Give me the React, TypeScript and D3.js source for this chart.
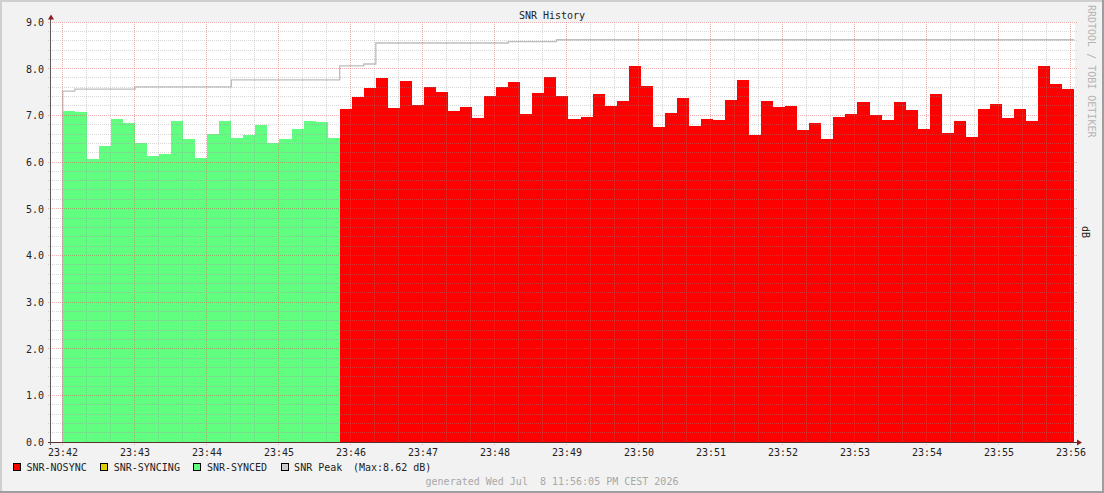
import * as d3 from 'd3';

// SNR samples, one every ~10 s starting 23:42:00
const syncedValues = [
  7.09, 7.07, 6.06, 6.34, 6.92, 6.84, 6.41, 6.13, 6.17, 6.88, 6.49, 6.09,
  6.6, 6.88, 6.51, 6.58, 6.79, 6.41, 6.49, 6.71, 6.88, 6.86, 6.51,
];

const nosyncValues = [
  7.13, 7.39, 7.59, 7.8, 7.16, 7.74, 7.22, 7.61, 7.5, 7.09,
  7.18, 6.94, 7.41, 7.61, 7.71, 7.03, 7.48, 7.82, 7.41, 6.92,
  6.96, 7.46, 7.2, 7.31, 8.06, 7.63, 6.76, 7.05, 7.37, 6.77,
  6.92, 6.9, 7.33, 7.76, 6.58, 7.31, 7.18, 7.2, 6.69, 6.84,
  6.49, 6.96, 7.03, 7.29, 7.01, 6.9, 7.29, 7.11, 6.71, 7.46,
  6.62, 6.88, 6.54, 7.13, 7.24, 6.94, 7.13, 6.88, 8.06, 7.67,
  7.56,
];

// peak level changes: sample index where it starts, and its value
const peakStartIndex = [0, 1, 6, 14, 23, 25, 26, 37, 41];
const peakValues = [7.52, 7.56, 7.61, 7.76, 8.06, 8.1, 8.55, 8.58, 8.62];

const legendLabels = ['SNR-NOSYNC', 'SNR-SYNCING', 'SNR-SYNCED', 'SNR Peak'];
const legendColors = ['#ff0000', '#e0d000', '#60ff80', '#cccccc'];

const title = 'SNR History';
const unitLabel = 'dB';
const watermark = 'RRDTOOL / TOBI OETIKER';
const generatedText = 'generated Wed Jul  8 11:56:05 PM CEST 2026';

const T_START = new Date(2026, 6, 8, 23, 41, 50, 600);
const T_END = new Date(2026, 6, 8, 23, 56, 4, 0);
const FIRST_SAMPLE = new Date(2026, 6, 8, 23, 42, 0, 400);
const STEP_MS = 10035;

const W = 1104;
const H = 493;
const left = 51;
const right = 1075;
const top = 22;
const bottom = 442;
const font = "'DejaVu Sans Mono', monospace";
const charW = 6.02;

const sampleTime = (i: number) => new Date(FIRST_SAMPLE.getTime() + i * STEP_MS);

export default function App() {
  const x = d3.scaleTime().domain([T_START, T_END]).range([left, right]);
  const y = d3.scaleLinear().domain([0, 9]).range([bottom, top]);
  const px = (v: number) => Math.floor(v) + 0.5;

  type Pt = { i: number; v: number };
  const area = d3
    .area<Pt>()
    .x((d) => x(sampleTime(d.i)))
    .y0(y(0))
    .y1((d) => y(d.v))
    .curve(d3.curveStepAfter);

  const greenPts: Pt[] = syncedValues.map((v, i) => ({ i, v }));
  greenPts.push({ i: syncedValues.length, v: syncedValues[syncedValues.length - 1] });
  const off = syncedValues.length;
  const redPts: Pt[] = nosyncValues.map((v, k) => ({ i: off + k, v }));
  redPts.push({ i: off + nosyncValues.length, v: nosyncValues[nosyncValues.length - 1] });

  const total = syncedValues.length + nosyncValues.length;
  const peakPts: Pt[] = [{ i: 0, v: 0 }];
  peakStartIndex.forEach((s, k) => peakPts.push({ i: s, v: peakValues[k] }));
  peakPts.push({ i: total, v: peakValues[peakValues.length - 1] });
  const peakLine = d3
    .line<Pt>()
    .x((d) => x(sampleTime(d.i)))
    .y((d) => y(d.v))
    .curve(d3.curveStepAfter);

  const majorX = x.ticks(d3.timeMinute.every(1)!);
  const minorX = x.ticks(d3.timeSecond.every(20)!).filter((t) => t.getSeconds() !== 0);
  const majorY = y.ticks(9);
  const minorY = y.ticks(45).filter((v) => Math.abs(v - Math.round(v)) > 1e-6);
  const fmt = d3.timeFormat('%H:%M');

  const gridColor = 'rgba(143,143,143,0.36)';
  const mgridColor = 'rgba(224,80,80,0.45)';

  // legend positions from text widths
  const legendX: number[] = [];
  let lx = 13.5;
  legendLabels.forEach((l) => {
    legendX.push(lx);
    lx += 13 + l.length * charW + 14;
  });
  const maxPeak = d3.max(peakValues)!;

  return (
    <svg
      width={W}
      height={H}
      style={{ position: 'absolute', left: 0, top: 0, fontFamily: font }}
    >
      <rect x={0} y={0} width={W} height={H} fill="#f2f2f2" />
      <rect x={0} y={0} width={W} height={2} fill="#cfcfcf" />
      <rect x={0} y={0} width={2} height={H} fill="#cfcfcf" />
      <rect x={0} y={H - 2} width={W} height={2} fill="#9e9e9e" />
      <rect x={W - 2} y={0} width={2} height={H} fill="#9e9e9e" />

      <rect x={left} y={top} width={right - left} height={bottom - top} fill="#ffffff" />

      <path d={area(greenPts) ?? ''} fill="#60ff80" shapeRendering="crispEdges" />
      <path d={area(redPts) ?? ''} fill="#ff0000" shapeRendering="crispEdges" />
      <path d={peakLine(peakPts) ?? ''} fill="none" stroke="#bdbdbd" strokeWidth={1.3} />

      <g shapeRendering="crispEdges" strokeDasharray="1,1">
        {minorY.map((v) => (
          <line key={`my${v}`} x1={left - 3} x2={right + 2} y1={px(y(v))} y2={px(y(v))} stroke={gridColor} />
        ))}
        {minorX.map((t) => (
          <line key={`mx${t.getTime()}`} x1={px(x(t))} x2={px(x(t))} y1={top} y2={bottom + 2} stroke={gridColor} />
        ))}
        {majorY.map((v) => (
          <line key={`My${v}`} x1={left - 3} x2={right + 2} y1={px(y(v))} y2={px(y(v))} stroke={mgridColor} />
        ))}
        {majorX.map((t) => (
          <line key={`Mx${t.getTime()}`} x1={px(x(t))} x2={px(x(t))} y1={top} y2={bottom + 3} stroke={mgridColor} />
        ))}
      </g>

      {/* axes */}
      <g shapeRendering="crispEdges">
        <line x1={left - 3} x2={right + 3} y1={px(bottom)} y2={px(bottom)} stroke="#5a3030" />
        <line x1={px(left - 1)} x2={px(left - 1)} y1={bottom + 3} y2={top - 3} stroke="#5a5a5a" />
      </g>
      <path d={`M${right + 2},${bottom - 2.5}L${right + 7},${bottom + 0.5}L${right + 2},${bottom + 3.5}Z`} fill="#8b1a1a" />
      <path d={`M${left - 3},${top - 2.5}L${left},${top - 7.5}L${left + 3},${top - 2.5}Z`} fill="#8b1a1a" />

      <g fontSize={10} fill="#222">
        {majorY.map((v) => (
          <text key={`yl${v}`} x={44} y={y(v) + 4} textAnchor="end">
            {v.toFixed(1)}
          </text>
        ))}
        {majorX.map((t) => (
          <text key={`xl${t.getTime()}`} x={px(x(t)) + 0.5} y={455.5} textAnchor="middle">
            {fmt(t)}
          </text>
        ))}
        <text x={552} y={19} textAnchor="middle">
          {title}
        </text>
        <text transform="translate(1082,232) rotate(90)" textAnchor="middle">
          {unitLabel}
        </text>
      </g>

      <text transform="translate(1088,5) rotate(90)" fontSize={10} fill="#b4b4b4">
        {watermark}
      </text>

      <g fontSize={10} fill="#222">
        {legendLabels.map((l, k) => (
          <g key={l}>
            <rect x={legendX[k]} y={463.5} width={7} height={7} fill={legendColors[k]} stroke="#000" strokeWidth={1} shapeRendering="crispEdges" />
            <text x={legendX[k] + 13} y={470.5}>
              {l}
            </text>
          </g>
        ))}
        <text x={353} y={470.5}>{`(Max:${maxPeak.toFixed(2)} ${unitLabel})`}</text>
      </g>

      <text x={552} y={484.5} textAnchor="middle" fontSize={10} fill="#a8a8a8" style={{ whiteSpace: 'pre' }}>
        {generatedText}
      </text>
    </svg>
  );
}
